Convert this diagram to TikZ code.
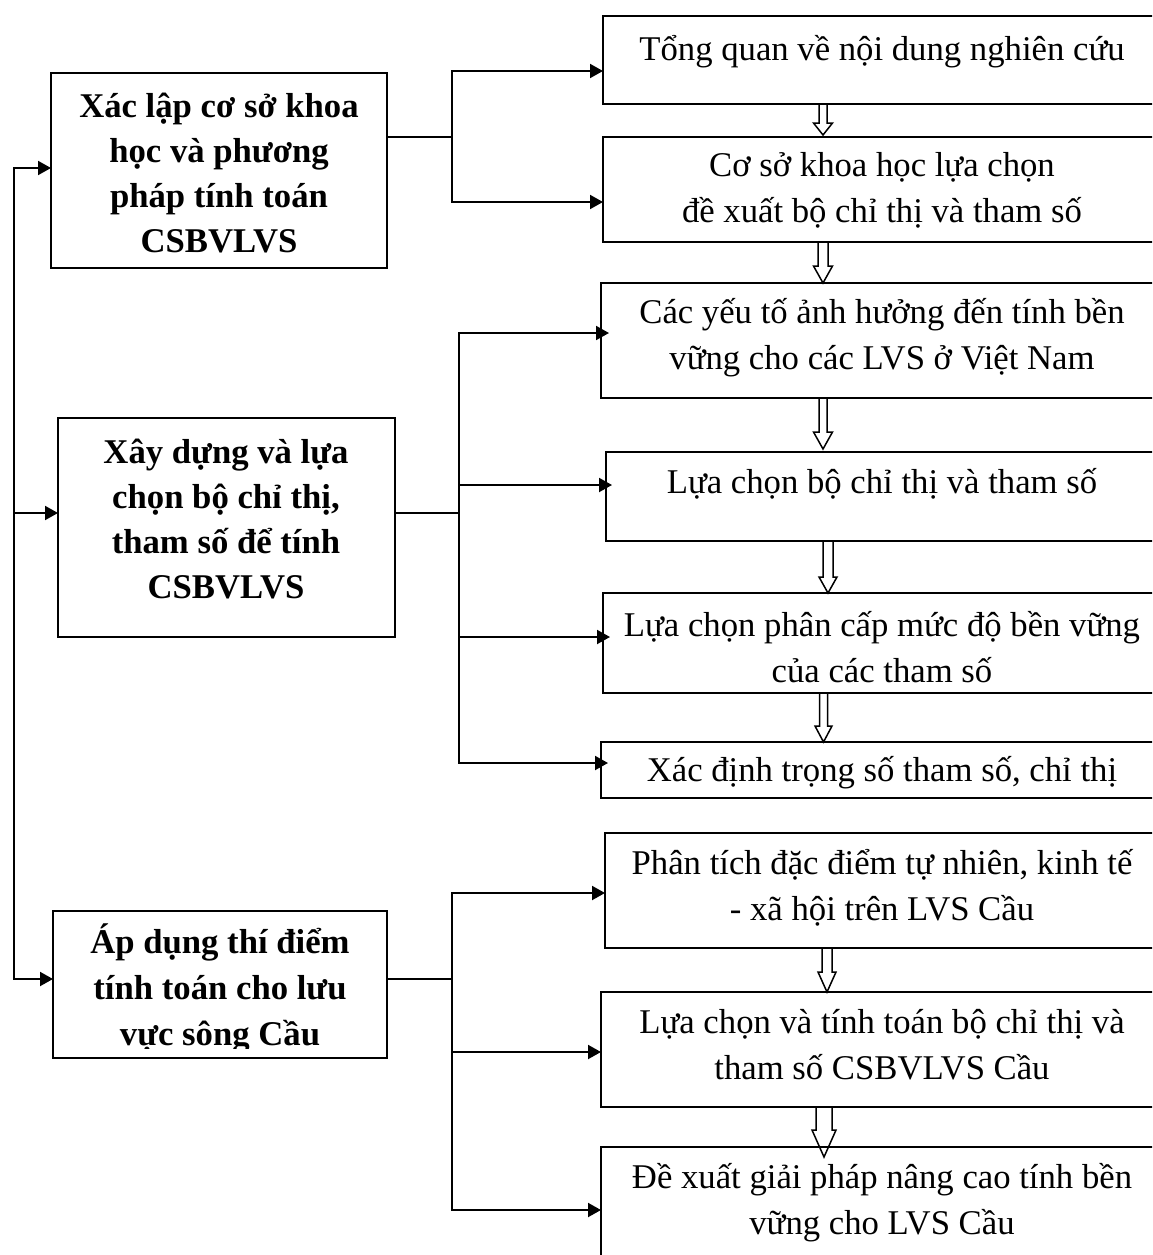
\documentclass[tikz,border=0pt]{standalone}
\usepackage{fontspec}
\setmainfont{Liberation Serif}
\usetikzlibrary{arrows.meta,calc}

\tikzset{
  frame/.style={draw, line width=2pt, inner sep=0pt, outer sep=0pt, anchor=north west},
  txt/.style={anchor=base, inner sep=0pt, outer sep=0pt},
  wire/.style={line width=2pt, line cap=rect},
  feed/.style={line width=2pt, line cap=rect, -{Triangle[length=13pt,width=14pt]}},
  hollow/.style={line width=1.5pt, line join=miter}
}

% centred text blocks; the anchor sits on the baseline of the first line
\newcommand\boxlines[1]{\parbox[t]{600pt}{\centering\fontsize{34.7}{46}\selectfont #1}}
\newcommand\headlines[1]{\parbox[t]{400pt}{\centering\fontsize{34.7}{45}\selectfont\bfseries #1}}

% hollow block arrow between two stacked boxes:
% from, to, x, shaft half width, head half width, head length, overshoot of the tip
\newcommand\hollowstep[7]{%
  \draw[hollow] let \p1=(#1.south), \p2=(#2.north) in
    ({(#3-#4)*1pt},\y1) -- ({(#3-#4)*1pt},{\y2-(#7)*1pt+(#6)*1pt})
    -- ({(#3-#5)*1pt},{\y2-(#7)*1pt+(#6)*1pt}) -- ({#3*1pt},{\y2-(#7)*1pt})
    -- ({(#3+#5)*1pt},{\y2-(#7)*1pt+(#6)*1pt}) -- ({(#3+#4)*1pt},{\y2-(#7)*1pt+(#6)*1pt})
    -- ({(#3+#4)*1pt},\y1);}

\begin{document}
\begin{tikzpicture}[x=1pt,y=-1pt]
\path[use as bounding box] (0,0) rectangle (1152,1255);
\clip (0,0) rectangle (1152,1255);
\fill[white] (0,0) rectangle (1152,1255);

% ---- left column: the three stages
\node[frame, minimum width=336pt, minimum height=195pt] (l1) at (51,73) {};
\node[frame, minimum width=337pt, minimum height=219pt] (l2) at (58,418) {};
\node[frame, minimum width=334pt, minimum height=147pt] (l3) at (53,911) {};

\node[txt] (tl1) at (219,117) {\headlines{Xác lập cơ sở khoa\\học và phương\\pháp tính toán\\CSBVLVS}};
\node[txt] (tl2) at (226,463) {\headlines{Xây dựng và lựa\\chọn bộ chỉ thị,\\tham số để tính\\CSBVLVS}};
\begin{scope}
  \clip (53,911) rectangle (387,1048);
  \node[txt] (tl3) at (220,953) {\parbox[t]{400pt}{\centering\fontsize{34.7}{46}\selectfont\bfseries Áp dụng thí điểm\\tính toán cho lưu\\vực sông Cầu}};
\end{scope}

% ---- right column: the individual tasks
\node[frame, minimum width=560pt, minimum height=88pt]  (r1) at (603,16) {};
\node[frame, minimum width=560pt, minimum height=105pt] (r2) at (603,137) {};
\node[frame, minimum width=562pt, minimum height=115pt] (r3) at (601,283) {};
\node[frame, minimum width=557pt, minimum height=89pt]  (r4) at (606,452) {};
\node[frame, minimum width=560pt, minimum height=100pt] (r5) at (603,593) {};
\node[frame, minimum width=562pt, minimum height=56pt]  (r6) at (601,742) {};
\node[frame, minimum width=558pt, minimum height=115pt] (r7) at (605,833) {};
\node[frame, minimum width=562pt, minimum height=115pt] (r8) at (601,992) {};
\node[frame, minimum width=562pt, minimum height=130pt] (r9) at (601,1147) {};

\node[txt] (tr1) at (882,60)   {\boxlines{Tổng quan về nội dung nghiên cứu}};
\node[txt] (tr2) at (882,176)  {\boxlines{Cơ sở khoa học lựa chọn\\đề xuất bộ chỉ thị và tham số}};
\node[txt] (tr3) at (882,323)  {\boxlines{Các yếu tố ảnh hưởng đến tính bền\\vững cho các LVS ở Việt Nam}};
\node[txt] (tr4) at (882,493)  {\boxlines{Lựa chọn bộ chỉ thị và tham số}};
\node[txt] (tr5) at (882,636)  {\boxlines{Lựa chọn phân cấp mức độ bền vững\\của các tham số}};
\node[txt] (tr6) at (882,781)  {\boxlines{Xác định trọng số tham số, chỉ thị}};
\node[txt] (tr7) at (882,874)  {\boxlines{Phân tích đặc điểm tự nhiên, kinh tế\\- xã hội trên LVS Cầu}};
\node[txt] (tr8) at (882,1033) {\boxlines{Lựa chọn và tính toán bộ chỉ thị và\\tham số CSBVLVS Cầu}};
\node[txt] (tr9) at (882,1188) {\boxlines{Đề xuất giải pháp nâng cao tính bền\\vững cho LVS Cầu}};

% ---- spine feeding the three stages
\coordinate (s1) at (14,168);
\coordinate (s2) at (14,513);
\coordinate (s3) at (14,979);
\draw[wire] (s1) -- (s3);
\draw[feed] (s1) -- (s1 -| l1.west);
\draw[feed] (s2) -- (s2 -| l2.west);
\draw[feed] (s3) -- (s3 -| l3.west);

% ---- stage 1 branches
\coordinate (b1)  at (452,137);
\coordinate (b1t) at (452,71);
\coordinate (b1b) at (452,202);
\draw[wire] (l1.east |- b1) -- (b1);
\draw[wire] (b1t) -- (b1b);
\draw[feed] (b1t) -- (b1t -| r1.west);
\draw[feed] (b1b) -- (b1b -| r2.west);

% ---- stage 2 branches
\coordinate (b2)  at (459,513);
\coordinate (b2a) at (459,333);
\coordinate (b2b) at (459,485);
\coordinate (b2c) at (459,637);
\coordinate (b2d) at (459,763);
\draw[line width=1.5pt] (l2.east |- b2) -- (b2);
\draw[wire] (b2a) -- (b2d);
\draw[feed, shorten >=-8pt] (b2a) -- (b2a -| r3.west);
\draw[feed, shorten >=-6pt] (b2b) -- (b2b -| r4.west);
\draw[feed, shorten >=-7pt] (b2c) -- (b2c -| r5.west);
\draw[feed, shorten >=-7pt] (b2d) -- (b2d -| r6.west);

% ---- stage 3 branches
\coordinate (b3)  at (452,979);
\coordinate (b3a) at (452,893);
\coordinate (b3b) at (452,1052);
\coordinate (b3c) at (452,1210);
\draw[wire] (l3.east |- b3) -- (b3);
\draw[wire] (b3a) -- (b3c);
\draw[feed] (b3a) -- (b3a -| r7.west);
\draw[feed] (b3b) -- (b3b -| r8.west);
\draw[feed] (b3c) -- (b3c -| r9.west);

% ---- hollow arrows down the task column
\hollowstep{r1}{r2}{823}{4}{9.5}{12}{-2}
\hollowstep{r2}{r3}{823}{5}{9.5}{17}{0}
\hollowstep{r3}{r4}{823}{4}{9.5}{17}{-3}
\hollowstep{r4}{r5}{828}{5}{9}{16}{0}
\hollowstep{r5}{r6}{823.5}{4}{8.5}{16}{0}
\hollowstep{r7}{r8}{827}{5}{9}{20}{0}
\hollowstep{r8}{r9}{824}{8}{12}{27}{10}
\end{tikzpicture}
\end{document}
